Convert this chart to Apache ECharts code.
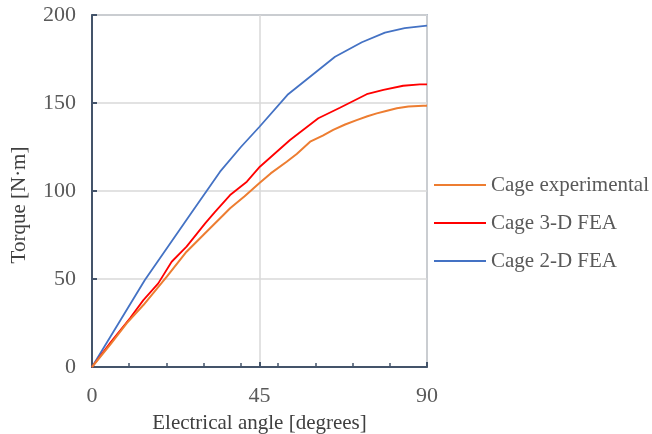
<!DOCTYPE html>
<html>
<head>
<meta charset="utf-8">
<script src="https://cdn.jsdelivr.net/npm/echarts@6/dist/echarts.min.js"></script>
<style>
  body { margin: 0; background: #fff; }
  #chart { width: 652px; height: 434px; }
</style>
</head>
<body>
<div id="chart"></div>
<script>
// [angle (deg), torque (N·m)]
var cageExperimental = [
  [0, 0], [5, 13], [9.3, 24.8], [13.8, 35.2], [20.1, 51.3], [25.4, 65.5], [29.9, 75],
  [35.3, 86.4], [37.1, 90.2], [41, 97], [45, 104.5], [48, 110], [52.3, 116.6], [55, 121],
  [58.6, 128], [62, 131.5], [64.8, 134.7], [68, 137.8], [71.1, 140.3], [74, 142.5],
  [76.5, 144.1], [79, 145.5], [81.9, 147], [85, 148], [89, 148.5], [90, 148.5]
];
var cage3D = [
  [0, 0], [5, 14], [10.2, 27.7], [13.8, 38], [17.8, 47.5], [21.4, 59.8], [25.4, 68.4],
  [30.4, 81.6], [33, 88], [37.1, 97.7], [41.6, 105.3], [45.1, 113.8], [53.2, 129],
  [60.8, 141.3], [66.6, 147.3], [73.8, 155], [78.3, 157.4], [83.6, 159.8], [88.1, 160.6], [90, 160.6]
];
var cage2D = [
  [0, 0], [14.2, 49.4], [26.3, 86.4], [34.4, 111], [40, 125], [45, 136.5], [52.7, 155],
  [65.3, 176.3], [72.5, 184.5], [78.7, 190], [84, 192.5], [90, 194]
];
var seriesNames = ['Cage experimental', 'Cage 3-D FEA', 'Cage 2-D FEA'];
var xTicks = [0, 45, 90];
var yTicks = [0, 50, 100, 150, 200];

var font = '"Liberation Serif", "Times New Roman", serif';
var axisColor = '#44546a';

var chartDom = document.getElementById('chart');
var myChart = echarts.init(chartDom);
var option;

option = {
  animation: false,
  grid: {
    left: 92, right: 225, top: 15, bottom: 67,
    outerBoundsMode: 'none', containLabel: false,
    show: true, borderColor: '#7f8fa6', borderWidth: 1.5
  },
  legend: {
    orient: 'vertical',
    left: 429, top: 169,
    data: seriesNames,
    icon: 'rect',
    itemWidth: 52, itemHeight: 2, itemGap: 16,
    textStyle: { fontFamily: font, fontSize: 21, color: '#595959', lineHeight: 22 }
  },
  xAxis: [
    {
      type: 'value', min: xTicks[0], max: xTicks[xTicks.length - 1], interval: 45,
      name: 'Electrical angle [degrees]', nameLocation: 'middle', nameGap: 46,
      nameTextStyle: { fontFamily: font, fontSize: 21, color: '#404040' },
      axisLine: { show: true, lineStyle: { color: axisColor, width: 2 } },
      axisTick: { show: true, inside: true, length: 5, lineStyle: { color: axisColor, width: 2 } },
      axisLabel: { fontFamily: font, fontSize: 22, color: '#595959', margin: 18 },
      splitLine: { show: true, lineStyle: { color: '#d9d9d9', width: 1.5 } }
    },
    {
      type: 'value', min: 0, max: 90, interval: 10, position: 'bottom',
      axisLine: { show: false },
      axisTick: { show: true, inside: true, length: 4, lineStyle: { color: axisColor, width: 1.5 } },
      axisLabel: { show: false },
      splitLine: { show: false }
    }
  ],
  yAxis: {
    type: 'value', min: yTicks[0], max: yTicks[yTicks.length - 1], interval: 50,
    name: 'Torque [N·m]', nameLocation: 'middle', nameGap: 62, nameRotate: 90,
    nameTextStyle: { fontFamily: font, fontSize: 21, color: '#404040', padding: [0, 28, 0, 0] },
    axisLine: { show: true, lineStyle: { color: axisColor, width: 2 } },
    axisTick: { show: true, inside: true, length: 5, lineStyle: { color: axisColor, width: 2 } },
    axisLabel: { fontFamily: font, fontSize: 22, color: '#595959', margin: 16 },
    splitLine: { show: true, lineStyle: { color: '#d9d9d9', width: 1.5 } }
  },
  series: [
    {
      name: seriesNames[2], type: 'line', data: cage2D, showSymbol: false,
      lineStyle: { color: '#4472c4', width: 1.8 }, itemStyle: { color: '#4472c4' }
    },
    {
      name: seriesNames[1], type: 'line', data: cage3D, showSymbol: false,
      lineStyle: { color: '#ff0000', width: 1.8 }, itemStyle: { color: '#ff0000' }
    },
    {
      name: seriesNames[0], type: 'line', data: cageExperimental, showSymbol: false,
      lineStyle: { color: '#ed7d31', width: 2 }, itemStyle: { color: '#ed7d31' }
    }
  ]
};

option && myChart.setOption(option);
</script>
</body>
</html>
